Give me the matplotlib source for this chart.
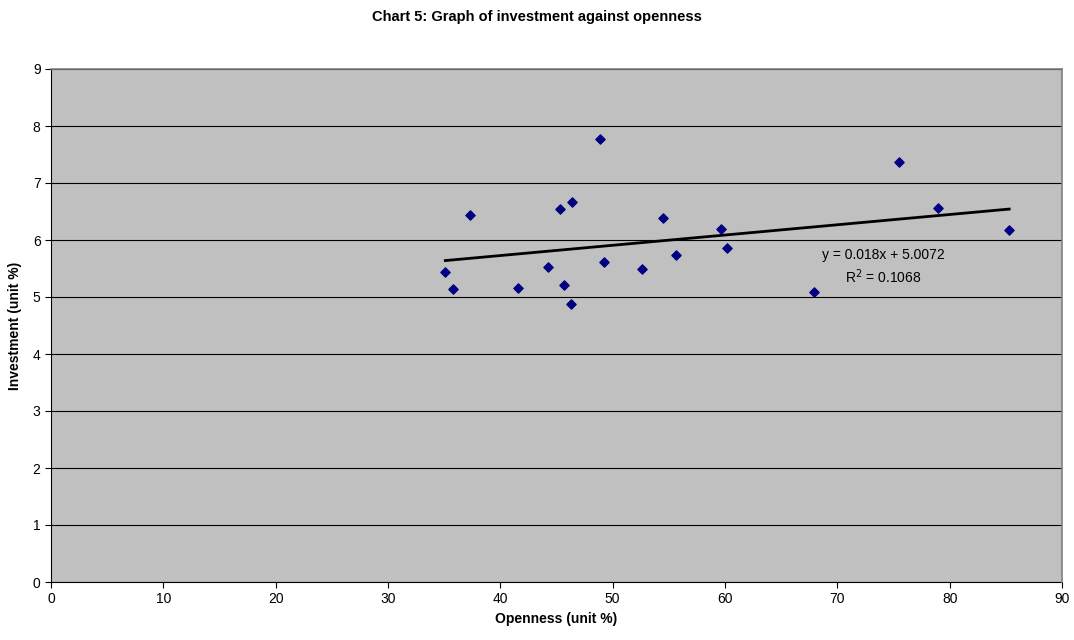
import numpy as np
import matplotlib.pyplot as plt

plt.rcParams['font.family'] = ['Liberation Sans', 'DejaVu Sans']

# openness (x) and investment (y)
openness = [35.1, 35.8, 37.3, 41.6, 44.2, 45.3, 45.7, 46.4, 46.3, 48.9,
            49.2, 52.6, 54.5, 55.6, 59.6, 60.2, 67.9, 75.5, 79.0, 85.3]
investment = [5.43, 5.14, 6.43, 5.16, 5.53, 6.54, 5.21, 6.67, 4.87, 7.77,
              5.61, 5.50, 6.39, 5.74, 6.19, 5.86, 5.09, 7.36, 6.57, 6.18]

slope = 0.018
intercept = 5.0072
r2 = 0.1068

fig = plt.figure(figsize=(10.74, 6.4), dpi=100)
ax = fig.add_axes([51 / 1074, 58 / 640, 1011 / 1074, 513 / 640])
ax.set_facecolor('#C0C0C0')

ax.scatter(openness, investment, marker='D', s=22, color='#000080', zorder=3)

xs = np.array([min(openness), max(openness)])
ax.plot(xs, slope * xs + intercept, color='black', lw=2, zorder=2)

ax.text(74.1, 5.74, 'y = 0.018x + 5.0072', ha='center', va='center', fontsize=10)
ax.text(74.1, 5.36, 'R$^2$ = %.4f' % r2, ha='center', va='center', fontsize=10)

ax.set_xlim(0, 90)
ax.set_ylim(0, 9)
ax.set_xticks(range(0, 91, 10))
ax.set_yticks(range(0, 10))
ax.yaxis.grid(True, color='black', lw=0.8)
ax.set_axisbelow(True)
ax.tick_params(direction='out', length=4, labelsize=10, color='black')
for name, s in ax.spines.items():
    s.set_linewidth(0.8)
    s.set_color('black' if name in ('left', 'bottom') else '#808080')
    if name in ('top', 'right'):
        s.set_linewidth(1.2)
        s.set_zorder(4)

ax.set_xlabel('Openness (unit %)', fontsize=10, fontweight='bold', labelpad=4)
ax.set_ylabel('Investment (unit %)', fontsize=10, fontweight='bold', labelpad=8)
fig.suptitle('Chart 5: Graph of investment against openness', fontsize=10.5,
             fontweight='bold', y=1 - 17 / 640, va='center')

fig.savefig('out.png', dpi=100)
